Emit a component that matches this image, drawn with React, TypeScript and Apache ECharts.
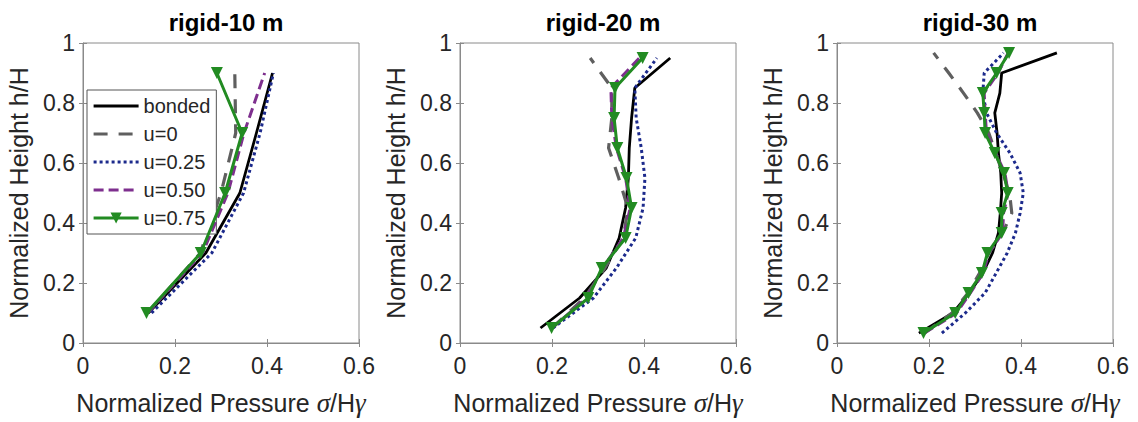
import React, { useEffect, useRef } from "react";
import * as echarts from "echarts";

const panelTitles = ["rigid-10 m", "rigid-20 m", "rigid-30 m"];
const seriesNames = ["bonded", "u=0", "u=0.25", "u=0.50", "u=0.75"];
const xTicks = [0, 0.2, 0.4, 0.6];
const yTicks = [0, 0.2, 0.4, 0.6, 0.8, 1];

// Panel 1 (rigid-10 m)
const p1Heights = [0.1, 0.3, 0.5, 0.7, 0.9];
const p1Bonded = [0.142, 0.267, 0.341, 0.377, 0.412];
const p1U0 = [0.14, 0.255, 0.3, 0.332, 0.33];
const p1U025 = [0.149, 0.28, 0.349, 0.385, 0.414];
const p1U050 = [0.14, 0.26, 0.315, 0.35, 0.395];
const p1U075 = [0.138, 0.256, 0.309, 0.346, 0.291];

// Panel 2 (rigid-20 m)
const p2Heights = [0.05, 0.15, 0.25, 0.35, 0.45, 0.55, 0.65, 0.75, 0.85, 0.95];
const p2Bonded = [0.175, 0.26, 0.318, 0.346, 0.36, 0.366, 0.368, 0.373, 0.38, 0.457];
const p2U0 = [0.2, 0.27, 0.315, 0.355, 0.365, 0.345, 0.323, 0.33, 0.33, 0.283];
const p2U025 = [0.202, 0.29, 0.34, 0.382, 0.398, 0.402, 0.394, 0.383, 0.38, 0.428];
const p2U050 = [0.2, 0.275, 0.31, 0.355, 0.37, 0.36, 0.34, 0.33, 0.328, 0.39];
const p2U075 = [0.199, 0.279, 0.308, 0.36, 0.373, 0.362, 0.342, 0.335, 0.337, 0.397];

// Panel 3 (rigid-30 m)
const p3Heights = [0.033, 0.1, 0.167, 0.233, 0.3, 0.367, 0.433, 0.5, 0.567, 0.633, 0.7, 0.767, 0.833, 0.9, 0.967];
const p3Bonded = [0.178, 0.252, 0.288, 0.317, 0.338, 0.351, 0.355, 0.358, 0.356, 0.351, 0.348, 0.343, 0.354, 0.358, 0.478];
const p3U0 = [0.19, 0.25, 0.285, 0.31, 0.33, 0.36, 0.38, 0.375, 0.36, 0.345, 0.33, 0.305, 0.275, 0.243, 0.21];
const p3U025 = [0.228, 0.279, 0.322, 0.346, 0.37, 0.388, 0.398, 0.405, 0.398, 0.376, 0.347, 0.325, 0.317, 0.32, 0.362];
const p3U050 = [0.19, 0.26, 0.29, 0.318, 0.33, 0.36, 0.362, 0.372, 0.365, 0.345, 0.325, 0.322, 0.32, 0.35, 0.372];
const p3U075 = [0.188, 0.257, 0.286, 0.315, 0.327, 0.358, 0.358, 0.371, 0.363, 0.343, 0.322, 0.32, 0.317, 0.347, 0.374];

const panels = [
  { heights: p1Heights, values: [p1Bonded, p1U0, p1U025, p1U050, p1U075] },
  { heights: p2Heights, values: [p2Bonded, p2U0, p2U025, p2U050, p2U075] },
  { heights: p3Heights, values: [p3Bonded, p3U0, p3U025, p3U050, p3U075] },
];

const FONT = "Liberation Sans, Arial, sans-serif";
const AXIS_GREY = "#8a8a8a";
const TEXT = "#262626";

const styles = [
  { color: "#000000", lineStyle: { width: 2.8, type: "solid" }, marker: false },
  { color: "#5f5f5f", lineStyle: { width: 3.2, type: [14, 11] }, marker: false },
  { color: "#1c2a8c", lineStyle: { width: 3, type: [3, 3] }, marker: false },
  { color: "#7e2f8e", lineStyle: { width: 3, type: [10, 5] }, marker: false },
  { color: "#228b22", lineStyle: { width: 3, type: "solid" }, marker: true },
];

const gridLefts = [83, 460, 837];

export default function App() {
  const ref = useRef<HTMLDivElement>(null);
  useEffect(() => {
    if (!ref.current) return;
    const chart = echarts.init(ref.current, null, { renderer: "svg" });
    const grids = gridLefts.map((l) => ({
      left: l,
      top: 43,
      width: 276,
      height: 300,
      show: true,
      borderColor: AXIS_GREY,
      borderWidth: 1,
      backgroundColor: "#ffffff",
    }));
    const xAxes: any[] = [];
    const yAxes: any[] = [];
    for (let i = 0; i < 3; i++) {
      xAxes.push({
        type: "value",
        gridIndex: i,
        min: 0,
        max: 0.6,
        interval: 0.2,
        position: "bottom",
        name: "Normalized Pressure {i|σ}/H{i|γ}",
        nameLocation: "middle",
        nameGap: 46,
        nameTextStyle: {
          fontFamily: FONT,
          fontSize: 25,
          color: TEXT,
          rich: {
            i: { fontFamily: "Liberation Serif, Times New Roman, serif", fontStyle: "italic", fontSize: 27, color: TEXT },
          },
        },
        axisLine: { show: true, lineStyle: { color: AXIS_GREY } },
        axisTick: { show: true, inside: true, length: 4, lineStyle: { color: AXIS_GREY } },
        axisLabel: { fontFamily: FONT, fontSize: 23, color: TEXT, margin: 11, formatter: (v: number) => (xTicks.includes(+v.toFixed(1)) ? String(+v.toFixed(1)) : "") },
        splitLine: { show: false },
      });
      yAxes.push({
        type: "value",
        gridIndex: i,
        min: 0,
        max: 1,
        interval: 0.2,
        position: "left",
        name: "Normalized Height h/H",
        nameLocation: "middle",
        nameGap: 52,
        nameTextStyle: { fontFamily: FONT, fontSize: 25, color: TEXT },
        axisLine: { show: true, lineStyle: { color: AXIS_GREY } },
        axisTick: { show: true, inside: true, length: 4, lineStyle: { color: AXIS_GREY } },
        axisLabel: { fontFamily: FONT, fontSize: 23, color: TEXT, margin: 8, formatter: (v: number) => (yTicks.includes(+v.toFixed(1)) ? String(+v.toFixed(1)) : "") },
        splitLine: { show: false },
      });
    }
    for (let i = 0; i < 3; i++) {
      xAxes.push({
        type: "value",
        gridIndex: i,
        min: 0,
        max: 0.6,
        interval: 0.2,
        position: "top",
        axisLine: { show: false },
        axisTick: { show: true, inside: true, length: 4, lineStyle: { color: AXIS_GREY } },
        axisLabel: { show: false },
        splitLine: { show: false },
      });
      yAxes.push({
        type: "value",
        gridIndex: i,
        min: 0,
        max: 1,
        interval: 0.2,
        position: "right",
        axisLine: { show: false },
        axisTick: { show: true, inside: true, length: 4, lineStyle: { color: AXIS_GREY } },
        axisLabel: { show: false },
        splitLine: { show: false },
      });
    }
    const series: any[] = [];
    panels.forEach((p, pi) => {
      p.values.forEach((vals, si) => {
        const st = styles[si];
        series.push({
          type: "line",
          name: seriesNames[si],
          xAxisIndex: pi,
          yAxisIndex: pi,
          data: vals.map((x, k) => [x, p.heights[k]]),
          color: st.color,
          lineStyle: { ...st.lineStyle, color: st.color, cap: "butt", join: "round" },
          symbol: st.marker ? "triangle" : "circle",
          symbolSize: 12,
          symbolRotate: 180,
          showSymbol: st.marker,
          itemStyle: { color: st.color },
          silent: true,
          z: 2 + si,
        });
      });
    });
    chart.setOption({
      animation: false,
      title: panelTitles.map((t, i) => ({
        text: t,
        left: gridLefts[i] + 138,
        textAlign: "center",
        top: 5,
        textStyle: { fontFamily: FONT, fontSize: 24, fontWeight: "bold", color: "#000" },
      })),
      legend: {
        orient: "vertical",
        left: 87,
        top: 90,
        data: seriesNames.map((n, i) =>
          styles[i].marker ? { name: n } : { name: n, itemStyle: { opacity: 0 } }
        ),
        backgroundColor: "#ffffff",
        borderColor: "#555",
        borderWidth: 1,
        padding: [6, 6, 6, 5],
        itemWidth: 45,
        itemHeight: 14,
        itemGap: 8,
        selectedMode: false,
        lineStyle: { width: 3.2 },
        textStyle: { fontFamily: FONT, fontSize: 20, color: TEXT },
      },
      grid: grids,
      xAxis: xAxes,
      yAxis: yAxes,
      series,
    });
    return () => chart.dispose();
  }, []);
  return (
    <div
      ref={ref}
      style={{ position: "fixed", left: 0, top: 0, width: 1138, height: 422, background: "#fff" }}
    />
  );
}
